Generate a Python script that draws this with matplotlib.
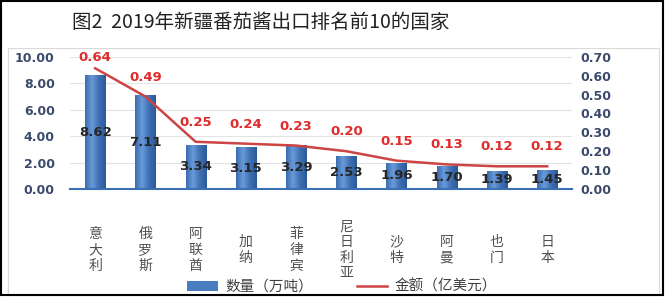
import numpy as np
import matplotlib.pyplot as plt
from matplotlib.colors import LinearSegmentedColormap
from matplotlib.patches import Rectangle

plt.rcParams['font.family'] = ['Noto Sans CJK SC', 'DejaVu Sans']

countries = ['意大利', '俄罗斯', '阿联酋', '加纳', '菲律宾', '尼日利亚', '沙特', '阿曼', '也门', '日本']
volume = [8.62, 7.11, 3.34, 3.15, 3.29, 2.53, 1.96, 1.70, 1.39, 1.45]   # 万吨
amount = [0.64, 0.49, 0.25, 0.24, 0.23, 0.20, 0.15, 0.13, 0.12, 0.12]   # 亿美元
legend_labels = ['数量（万吨）', '金额（亿美元）']
title = '图2  2019年新疆番茄酱出口排名前10的国家'

num_font = dict(family='DejaVu Sans', fontweight='bold')
tick_color = '#3b4a6b'

fig = plt.figure(figsize=(6.67, 2.98), dpi=100)
ax = fig.add_axes([0.105, 0.366, 0.753, 0.443])
x = np.arange(len(countries))

# bars with a soft horizontal gradient
bars = ax.bar(x, volume, width=0.4, color='#4a7cc0', zorder=2)
cmap = LinearSegmentedColormap.from_list('bar', ['#3a6cb0', '#6a9ad8', '#3f70b4', '#2c5a98'])
grad = np.linspace(0, 1, 50).reshape(1, -1)
for b in bars:
    x0, y0, w, h = b.get_x(), b.get_y(), b.get_width(), b.get_height()
    im = ax.imshow(grad, cmap=cmap, extent=[x0, x0 + w, y0, y0 + h],
                   aspect='auto', zorder=2.1)
    im.set_clip_path(b)

ax.set_xlim(-0.5, len(countries) - 0.5)
ax.set_ylim(0, 10)
ax.set_yticks(np.arange(0, 11, 2))
ax.set_yticklabels([f'{v:.2f}' for v in np.arange(0, 11, 2)], **num_font)
ax.set_xticks([])
ax.yaxis.grid(True, color='#e3e3e3', lw=0.8)
ax.set_axisbelow(True)
for s in ['top', 'left', 'right']:
    ax.spines[s].set_visible(False)
ax.spines['bottom'].set_color('#3d6fb5')
ax.spines['bottom'].set_linewidth(1.5)
ax.tick_params(axis='y', length=0, labelsize=9, labelcolor=tick_color, pad=11)

for i, v in enumerate(volume):
    ax.text(i, v / 2, f'{v:.2f}', ha='center', va='center', fontsize=9.5,
            color='#262626', zorder=4, **num_font)

# vertical stacked category names
for i, c in enumerate(countries):
    ax.text(i, -0.462, '\n'.join(c), transform=ax.get_xaxis_transform(),
            ha='center', va='center', fontsize=10, color='#505050', linespacing=1.15)

ax2 = ax.twinx()
line, = ax2.plot(x, amount, color='#cc4444', lw=1.8, zorder=3)
ax2.set_ylim(0, 0.7)
rt = np.round(np.arange(0, 0.71, 0.1), 2)
ax2.set_yticks(rt)
ax2.set_yticklabels([f'{v:.2f}' for v in rt], **num_font)
for s in ['top', 'left', 'right', 'bottom']:
    ax2.spines[s].set_visible(False)
ax2.tick_params(axis='y', length=0, labelsize=9, labelcolor=tick_color, pad=6)

for i, v in enumerate(amount):
    off = 8 if i == 0 else 14
    ax2.annotate(f'{v:.2f}', (i, v), xytext=(0, off), textcoords='offset points',
                 ha='center', va='center', fontsize=9.5, color='#e02b2b', **num_font)

fig.text(0.391, 0.926, title, ha='center', va='center', fontsize=14, color='#222222')

fig.legend([bars, line], legend_labels, loc='center', bbox_to_anchor=(0.513, 0.037),
           ncol=2, frameon=False, fontsize=10.5, handlelength=2.1, columnspacing=3,
           handletextpad=0.5, labelcolor='#404040')

# chart frames
fig.add_artist(Rectangle((8 / 667, 3 / 298), 651 / 667, 247 / 298, transform=fig.transFigure,
                         fill=False, ec='#d9d9d9', lw=0.8))
fig.add_artist(Rectangle((1 / 667, 3 / 298), 662 / 667, 294 / 298, transform=fig.transFigure,
                         fill=False, ec='black', lw=1.5, zorder=10))

fig.savefig('out.png', dpi=100)
